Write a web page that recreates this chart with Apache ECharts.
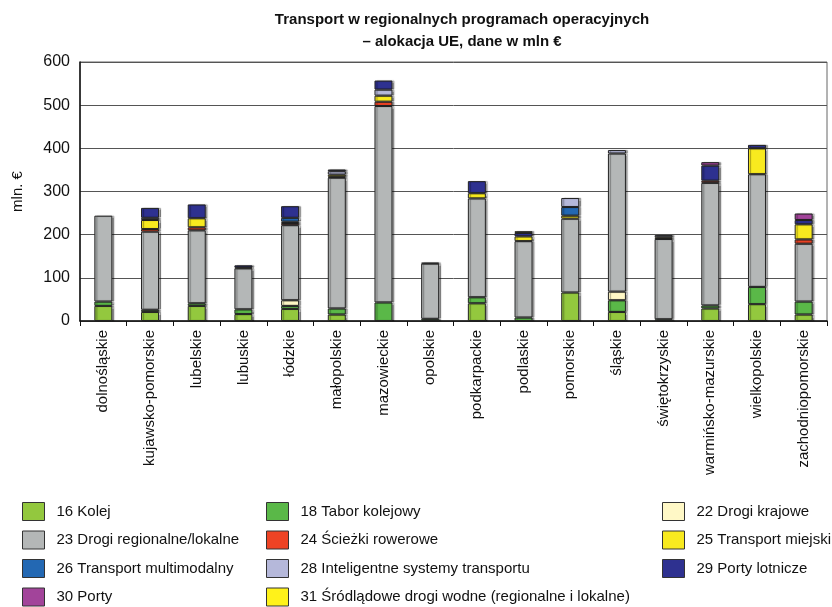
<!DOCTYPE html>
<html><head><meta charset="utf-8">
<script src="https://cdn.jsdelivr.net/npm/echarts@6/dist/echarts.min.js"></script>
<style>html,body{margin:0;padding:0;background:#fff}#c{width:832px;height:607px}</style>
</head><body><div id="c"></div>
<script>
const categories = ['dolnośląskie','kujawsko-pomorskie','lubelskie','lubuskie','łódzkie','małopolskie','mazowieckie','opolskie','podkarpackie','podlaskie','pomorskie','śląskie','świętokrzyskie','warmińsko-mazurskie','wielkopolskie','zachodniopomorskie'];
const yTicks = [0,100,200,300,400,500,600];
const names = ['16 Kolej','18 Tabor kolejowy','22 Drogi krajowe','23 Drogi regionalne/lokalne','24 Ścieżki rowerowe','25 Transport miejski','26 Transport multimodalny','28 Inteligentne systemy transportu','29 Porty lotnicze','30 Porty','31 Śródlądowe drogi wodne (regionalne i lokalne)'];
const s16 = [35, 21, 35, 16, 28, 15, 0, 0, 41, 0, 66, 21, 0, 29, 39, 15];
const s18 = [10, 5, 6, 11, 7, 14, 43, 5, 14, 8, 0, 27, 4, 7, 40, 30];
const s22 = [0, 0, 0, 0, 13, 0, 0, 0, 0, 0, 0, 20, 0, 0, 0, 0];
const s23 = [199, 181, 169, 95, 174, 303, 455, 128, 229, 177, 171, 320, 186, 284, 261, 134];
const s24 = [0, 6, 7, 0, 5, 2, 10, 0, 0, 0, 0, 0, 0, 5, 0, 10];
const s25 = [0, 21, 21, 2, 3, 5, 14, 0, 12, 11, 7, 0, 4, 0, 60, 35];
const s26 = [0, 0, 0, 0, 9, 0, 0, 0, 0, 0, 20, 0, 0, 0, 0, 0];
const s28 = [0, 5, 0, 0, 0, 8, 14, 0, 0, 0, 21, 8, 5, 0, 0, 0];
const s29 = [0, 23, 32, 5, 27, 4, 21, 2, 28, 8, 0, 0, 0, 35, 8, 10];
const s30 = [0, 0, 0, 0, 0, 0, 0, 0, 0, 0, 0, 0, 0, 8, 0, 15];
const s31 = [0, 0, 0, 0, 0, 0, 0, 0, 0, 4, 0, 0, 0, 0, 0, 0];

const values = [s16,s18,s22,s23,s24,s25,s26,s28,s29,s30,s31];
const colors = ['#93c83e','#5ab848','#fff8c6','#b4b7b7','#ee4324','#f8ea1f','#2368b3','#b5b8da','#2e3190','#a2449a','#fff21a'];
const FONT = '"Liberation Sans",Arial,sans-serif';

const series = names.map((n,i)=>({
  name:n, type:'bar', stack:'t', barWidth:18,
  itemStyle:{color:colors[i], borderColor:'#222', borderWidth:1,
    shadowColor:'rgba(0,0,0,0.35)', shadowOffsetX:2, shadowOffsetY:0, shadowBlur:1},
  data: values[i].map(v=> v===0 ? '-' : v)
}));

// legend laid out in 3 columns, row-major order
const colX = [22, 266, 662];
const rowY = [502, 530.5, 559, 587.5];
const legends = names.map((n,i)=>({
  left: colX[i % 3], top: rowY[Math.floor(i / 3)], padding:0,
  itemWidth:22, itemHeight:18, icon:'rect', data:[n],
  textStyle:{fontFamily:FONT, fontSize:15, color:'#111', padding:[0,0,0,7]},
  itemStyle:{borderColor:'#333', borderWidth:1, shadowBlur:0, shadowOffsetX:0}
}));

const chart = echarts.init(document.getElementById('c'));
chart.setOption({
  animation:false,
  backgroundColor:'#fff',
  title:{text:'Transport w regionalnych programach operacyjnych\n– alokacja UE, dane w mln €',
    left:457, top:4, textAlign:'center',
    textStyle:{fontFamily:FONT, fontSize:15, fontWeight:'bold', color:'#111', lineHeight:22}},
  grid:{left:80, right:5, top:62, bottom:286, show:true, borderColor:'#666', borderWidth:1},
  legend: legends,
  xAxis:{type:'category', data:categories,
    axisLine:{lineStyle:{color:'#111', width:1.5}},
    axisTick:{show:true, length:5, lineStyle:{color:'#111'}},
    axisLabel:{rotate:90, fontFamily:FONT, fontSize:15, color:'#111', margin:9}},
  yAxis:{type:'value', min:yTicks[0], max:yTicks[yTicks.length-1], interval:100,
    name:'mln. €', nameLocation:'middle', nameGap:55,
    nameTextStyle:{fontFamily:FONT, fontSize:15, color:'#111'},
    axisLine:{show:true, lineStyle:{color:'#111', width:1.5}},
    axisTick:{show:false},
    axisLabel:{fontFamily:FONT, fontSize:16, color:'#111', margin:10},
    splitLine:{lineStyle:{color:'#555', width:1}}},
  series:series
});
</script></body></html>
